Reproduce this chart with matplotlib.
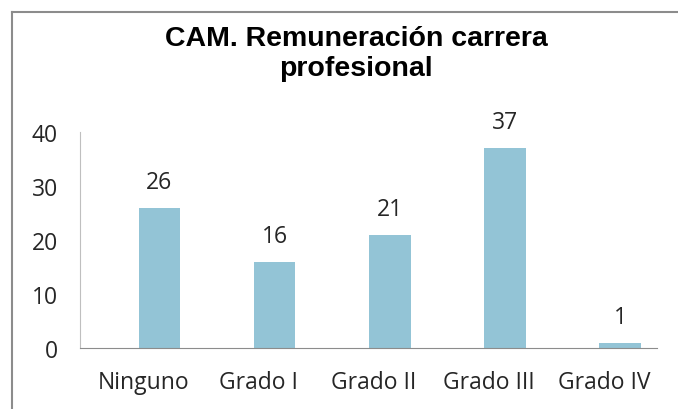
import matplotlib.pyplot as plt
from matplotlib.lines import Line2D

categories = ["Ninguno", "Grado I", "Grado II", "Grado III", "Grado IV"]
values = [26, 16, 21, 37, 1]
yticks = [0, 10, 20, 30, 40]

bar_color = "#93C4D6"
axis_color = "#BFBFBF"
text_color = "#262626"
font = "Open Sans"

fig = plt.figure(figsize=(6.78, 4.10), dpi=100)
fig.patch.set_facecolor("white")

# outer chart border (only left and top visible in the crop)
fig.add_artist(Line2D([12 / 678, 12 / 678], [0, 1 - 13 / 410], color="#8C8C8C", lw=1.5))
fig.add_artist(Line2D([12 / 678, 1], [1 - 13 / 410, 1 - 13 / 410], color="#8C8C8C", lw=1.5))

ax = fig.add_axes([80 / 678, 61 / 410, 577 / 678, 216 / 410])
x = list(range(len(categories)))
bars = ax.bar(x, values, width=0.36, color=bar_color)

ax.set_xlim(-0.69, 4.32)
ax.set_ylim(0, 40)
ax.set_yticks(yticks)
# category labels sit a bit left of the bars in the original
ax.set_xticks([i - 0.14 for i in x])
ax.set_xticklabels(categories)

for s in ["top", "right"]:
    ax.spines[s].set_visible(False)
ax.spines["left"].set_color(axis_color)
ax.spines["bottom"].set_color("#8C8C8C")
ax.tick_params(axis="both", length=0, labelsize=16.5, colors=text_color)
ax.tick_params(axis="x", pad=16)
ax.tick_params(axis="y", pad=16)
for lab in ax.get_xticklabels() + ax.get_yticklabels():
    lab.set_fontfamily(font)

for rect, v in zip(bars, values):
    ax.annotate(str(v), (rect.get_x() + rect.get_width() / 2, v),
                xytext=(0, 10), textcoords="offset points",
                ha="center", va="bottom", fontsize=16.5, family=font, color=text_color)

fig.text(356 / 678, 1 - 54 / 410, "CAM. Remuneración carrera\nprofesional",
         ha="center", va="center", fontsize=20.5, fontweight="bold",
         family="Liberation Sans", linespacing=1.15)

fig.savefig("out.png", dpi=100, facecolor="white")
